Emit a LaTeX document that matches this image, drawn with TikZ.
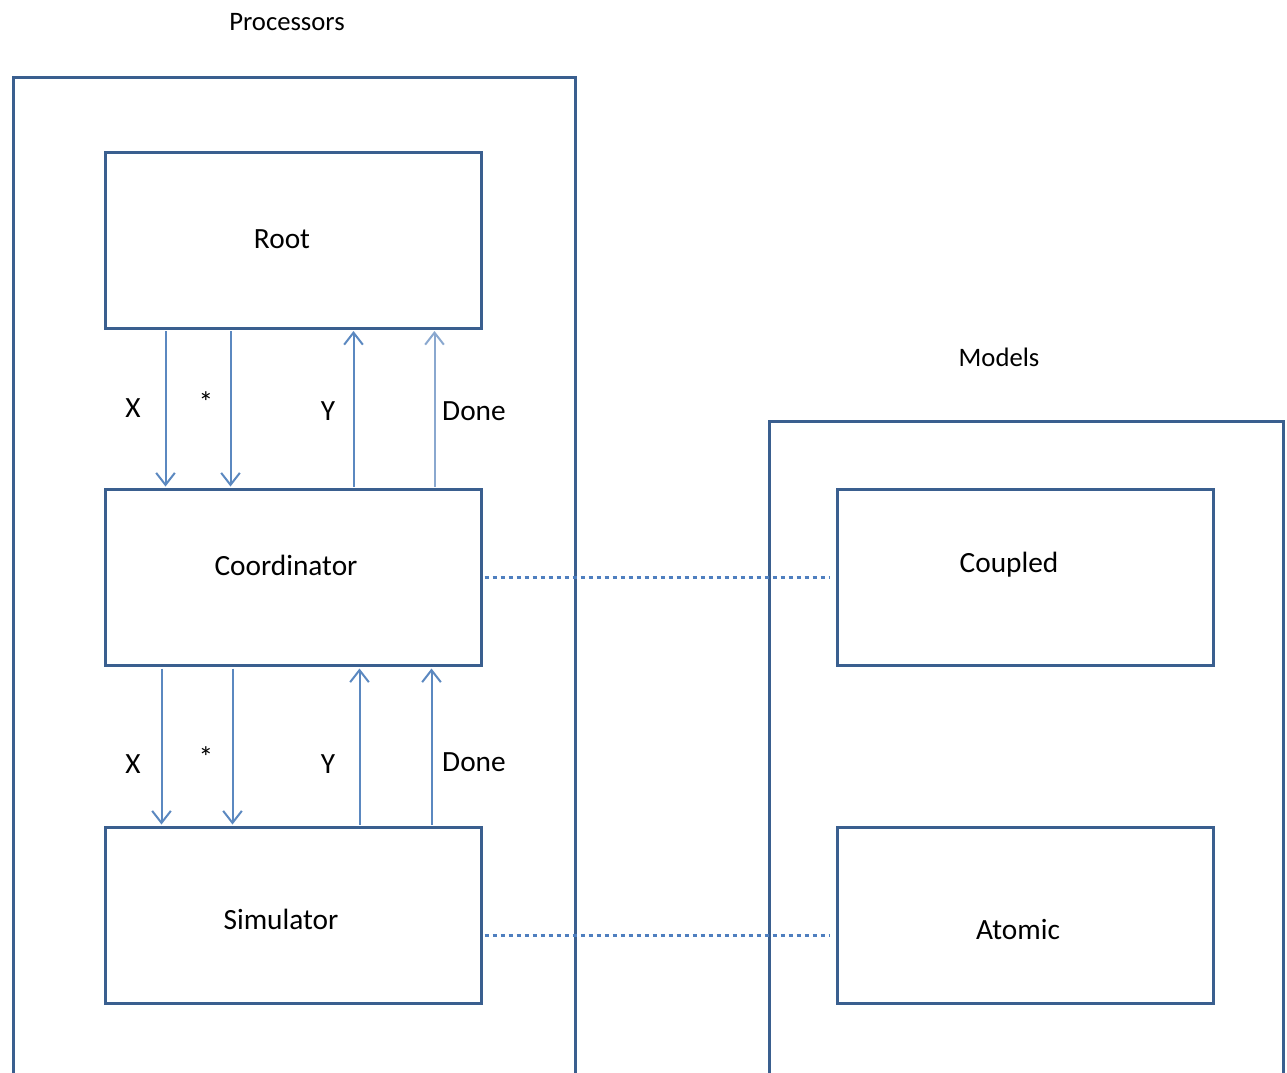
\documentclass[tikz,border=0pt]{standalone}
\usepackage{fontspec}
\setmainfont{Carlito}
\usetikzlibrary{arrows.meta,calc}

\definecolor{boxline}{HTML}{3A5F8F}
\definecolor{flowline}{HTML}{5B88C0}
\definecolor{flowpale}{HTML}{8AA8CF}
\definecolor{linkdot}{HTML}{4F7FBF}

\tikzset{
  block/.style={draw=boxline, line width=2.25pt, inner sep=0pt,
    minimum width=282pt, minimum height=132pt},
  frame/.style={draw=boxline, line width=2.25pt},
  flow/.style={draw=flowline, line width=1.5pt,
    -{Straight Barb[length=9pt,width=14pt,line width=1.5pt]}},
  txt/.style={inner sep=0pt, font=\fontsize{22}{26}\selectfont},
  lbl/.style={inner sep=0pt, font=\fontsize{22}{26}\selectfont},
  head/.style={inner sep=0pt, font=\fontsize{20}{24}\selectfont},
  link/.style={draw=linkdot, line width=2.4pt, dash pattern=on 3pt off 3pt}
}

\begin{document}
\begin{tikzpicture}[x=0.75pt, y=-0.75pt]
  \useasboundingbox (0,0) rectangle (1287,1072);
  \clip (0,0) rectangle (1287,1072);

  % containers, open past the lower edge
  \draw[frame] (13,1100) -- (13,77) -- (575,77) -- (575,1100);
  \draw[frame] (769,1100) -- (769,421) -- (1283,421) -- (1283,1100);
  \node[head] (tProc) at (287,22) {Processors};
  \node[head] (tMod) at (999,357) {Models};

  % processor blocks
  \node[block] (root) at (293,240) {};
  \node[block] (coord) at (293,577.5) {};
  \node[block] (sim) at (293,915.5) {};
  \node[txt] (tRoot) at (282,239) {Root};
  \node[txt] (tCoord) at (286,565) {Coordinator};
  \node[txt] (tSim) at (281,919) {Simulator};

  % model blocks
  \node[block] (coupled) at (1025,577.5) {};
  \node[block] (atomic) at (1025,915.5) {};
  \node[txt] (tCoupled) at (1009,565) {Coupled};
  \node[txt] (tAtomic) at (1018,929) {Atomic};

  % root <-> coordinator messages
  \draw[flow] ($(root.south west)+(62,1.5)$) -- ($(coord.north west)+(62,-1.5)$);
  \draw[flow] ($(root.south west)+(127,1.5)$) -- ($(coord.north west)+(127,-1.5)$);
  \draw[flow] ($(coord.north west)+(250,-1.5)$) -- ($(root.south west)+(250,1.5)$);
  \draw[flow, draw=flowpale] ($(coord.north west)+(331,-1.5)$) -- ($(root.south west)+(331,1.5)$);
  \node[lbl] (x1) at (133,408) {X};
  \node[lbl] (s1) at (206,402) {*};
  \node[lbl] (y1) at (328,411) {Y};
  \node[lbl] (d1) at (474,411) {Done};

  % coordinator <-> simulator messages
  \draw[flow] ($(coord.south west)+(58,1.5)$) -- ($(sim.north west)+(58,-1.5)$);
  \draw[flow] ($(coord.south west)+(129,1.5)$) -- ($(sim.north west)+(129,-1.5)$);
  \draw[flow] ($(sim.north west)+(256,-1.5)$) -- ($(coord.south west)+(256,1.5)$);
  \draw[flow] ($(sim.north west)+(328,-1.5)$) -- ($(coord.south west)+(328,1.5)$);
  \node[lbl] (x2) at (133,764) {X};
  \node[lbl] (s2) at (206,757) {*};
  \node[lbl] (y2) at (328,764) {Y};
  \node[lbl] (d2) at (474,762) {Done};

  % processor-to-model correspondence
  \draw[link] ($(coord.east)+(2,0)$) -- ($(coupled.west)+(-6,0)$);
  \draw[link] ($(sim.east)+(2,20)$) -- ($(atomic.west)+(-6,20)$);
\end{tikzpicture}
\end{document}
